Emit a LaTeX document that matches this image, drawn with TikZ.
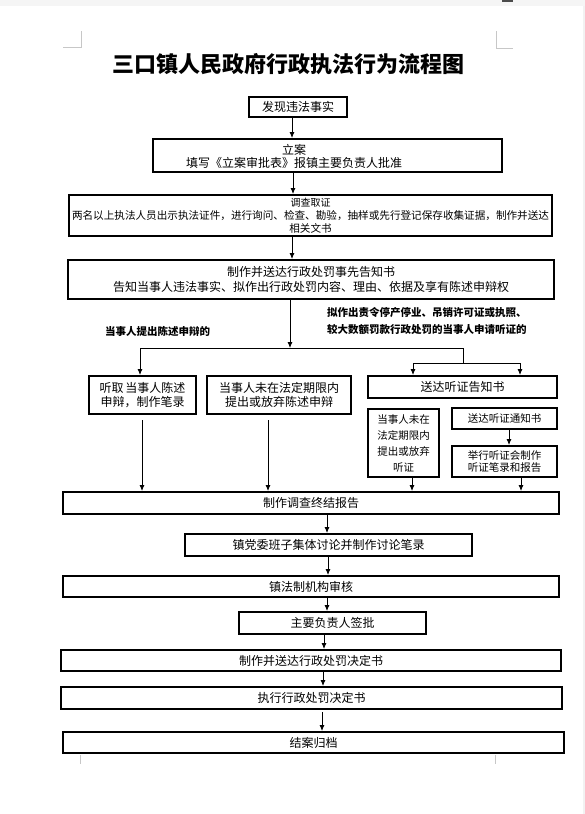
\documentclass[tikz,border=0pt]{standalone}
\usepackage{fontspec}
\newfontfamily\cjk{Noto Sans CJK SC}
\usetikzlibrary{arrows.meta}
\tikzset{
  box/.style={draw, line width=2pt, inner sep=0pt, align=center, font=\cjk\fontsize{12}{14}\selectfont},
  sbox/.style={box, font=\cjk\fontsize{10.5}{16}\selectfont},
  txt/.style={inner sep=0pt, align=center},
  arr/.style={line width=0.8pt, -{Latex[length=6pt,width=5pt]}},
  ln/.style={line width=0.8pt},
  cornermark/.style={draw=black!22, line width=0.9pt},
  lab/.style={inner sep=0pt, align=left, font=\cjk\bfseries\fontsize{10.5}{17}\selectfont}
}
\begin{document}
\begin{tikzpicture}[x=1pt,y=-1pt]
\useasboundingbox (0,0) rectangle (585,814);
% page decorations
\fill[fill=black!4] (0,0) rectangle (585,6);
\fill[fill=black!70] (502,0) rectangle (513,1.5);
\fill[fill=black!5] (583,6) rectangle (585,814);
\draw[cornermark] (81,31) -- (81,47) -- (63,47);
\draw[cornermark] (496,31) -- (496,48) -- (513,48);
\draw[cornermark] (80,755) -- (80,764);
\draw[cornermark] (495,755) -- (495,764);

% title
\node[txt, font=\cjk\bfseries\fontsize{22}{26}\selectfont] (title) at (288,64) {三口镇人民政府行政执法行为流程图};

% main boxes
\node[box, minimum width=98, minimum height=20] (b1) at (298,107) {发现违法事实};
\node[box, minimum width=349, minimum height=33] (b2) at (327.5,155.5) {};
\node[txt, font=\cjk\fontsize{12}{13}\selectfont] (b2t) at (294,156) {立案\\填写《立案审批表》报镇主要负责人批准};
\node[box, minimum width=483, minimum height=41, font=\cjk\fontsize{10.6}{13}\selectfont] (b3) at (310.5,215.5) {{\fontsize{10}{13}\selectfont 调查取证}\\两名以上执法人员出示执法证件，进行询问、检查、勘验，抽样或先行登记保存收集证据，制作并送达\\相关文书};
\node[box, minimum width=486, minimum height=39, font=\cjk\fontsize{12}{15}\selectfont] (b4) at (311,279.5) {制作并送达行政处罚事先告知书\\告知当事人违法事实、拟作出行政处罚内容、理由、依据及享有陈述申辩权};

% labels
\node[lab, anchor=west] (labL) at (105,331) {当事人提出陈述申辩的};
\node[lab, anchor=west] (labR) at (327,320.5) {拟作出责令停产停业、吊销许可证或执照、\\较大数额罚款行政处罚的当事人申请听证的};

% branch boxes
\node[box, minimum width=107, minimum height=38, font=\cjk\fontsize{12}{13.5}\selectfont] (bL1) at (142.5,395) {听取\,当事人陈述\\申辩，制作笔录};
\node[box, minimum width=144, minimum height=38, font=\cjk\fontsize{12}{13.5}\selectfont] (bL2) at (279,395) {当事人未在法定期限内\\提出或放弃陈述申辩};
\node[box, minimum width=189, minimum height=22] (bR) at (462.5,387) {送达听证告知书};
\node[sbox, minimum width=71, minimum height=68] (bR1) at (403.5,443) {当事人未在\\法定期限内\\提出或放弃\\听证};
\node[sbox, minimum width=105, minimum height=21] (bR2) at (504.5,418.5) {送达听证通知书};
\node[sbox, minimum width=105, minimum height=31, font=\cjk\fontsize{10.5}{12.5}\selectfont] (bR3) at (504.5,461.5) {举行听证会制作\\听证笔录和报告};

% lower boxes
\node[box, minimum width=496, minimum height=22] (b5) at (311,503) {制作调查终结报告};
\node[box, minimum width=287, minimum height=22] (b6) at (328.5,545) {镇党委班子集体讨论并制作讨论笔录};
\node[box, minimum width=496, minimum height=21] (b7) at (311,586.5) {镇法制机构审核};
\node[box, minimum width=187, minimum height=22] (b8) at (332.5,623) {主要负责人签批};
\node[box, minimum width=500, minimum height=21] (b9) at (311,660.5) {制作并送达行政处罚决定书};
\node[box, minimum width=501, minimum height=22] (b10) at (311.5,698) {执行行政处罚决定书};
\node[box, minimum width=501, minimum height=21] (b11) at (313.5,742.5) {结案归档};

% connector columns
\coordinate (c1) at (292,0);
\coordinate (c2) at (293,0);
\coordinate (c3) at (292,0);
\coordinate (c4) at (290,0);
\coordinate (J) at (290,348);
\coordinate (JL) at (140,348);
\coordinate (JR) at (463,348);
\coordinate (JR2) at (463,363);
\coordinate (JRa) at (413,363);
\coordinate (JRb) at (520,363);

\draw[arr] (c1 |- b1.south) -- (c1 |- b2.north);
\draw[arr] (c2 |- b2.south) -- (c2 |- b3.north);
\draw[arr] (c3 |- b3.south) -- (c3 |- b4.north);
\draw[arr] (c4 |- b4.south) -- (J);
\draw[ln] (JL) -- (JR) -- (JR2);
\draw[ln] (JRa) -- (JRb);
\draw[arr] (JL) -- (JL |- bL1.north);
\draw[arr] (JRa) -- (JRa |- bR.north);
\draw[arr] (JRb) -- (JRb |- bR.north);

\coordinate (d1) at (142,420);
\coordinate (d2) at (268,420);
\draw[arr] (d1) -- (d1 |- b5.north);
\draw[arr] (d2) -- (d2 |- b5.north);
\coordinate (d3) at (412,0);
\coordinate (d4) at (521,0);
\coordinate (d5) at (509,0);
\draw[arr] (d3 |- bR1.south) -- (d3 |- b5.north);
\draw[arr] (d4 |- bR3.south) -- (d4 |- b5.north);
\draw[arr] (d5 |- bR2.south) -- (d5 |- bR3.north);

\coordinate (e1) at (327,0);
\coordinate (e2) at (328,0);
\coordinate (e3) at (327,0);
\coordinate (e4) at (324,0);
\coordinate (e5) at (323,0);
\coordinate (e6) at (322,0);
\draw[arr] (e1 |- b5.south) -- (e1 |- b6.north);
\draw[arr] (e2 |- b6.south) -- (e2 |- b7.north);
\draw[arr] (e3 |- b7.south) -- (e3 |- b8.north);
\draw[arr] (e4 |- b8.south) -- (e4 |- b9.north);
\draw[arr] (e5 |- b9.south) -- (e5 |- b10.north);
\draw[arr] ([yshift=-2pt]e6 |- b10.south) -- (e6 |- b11.north);
\end{tikzpicture}
\end{document}
